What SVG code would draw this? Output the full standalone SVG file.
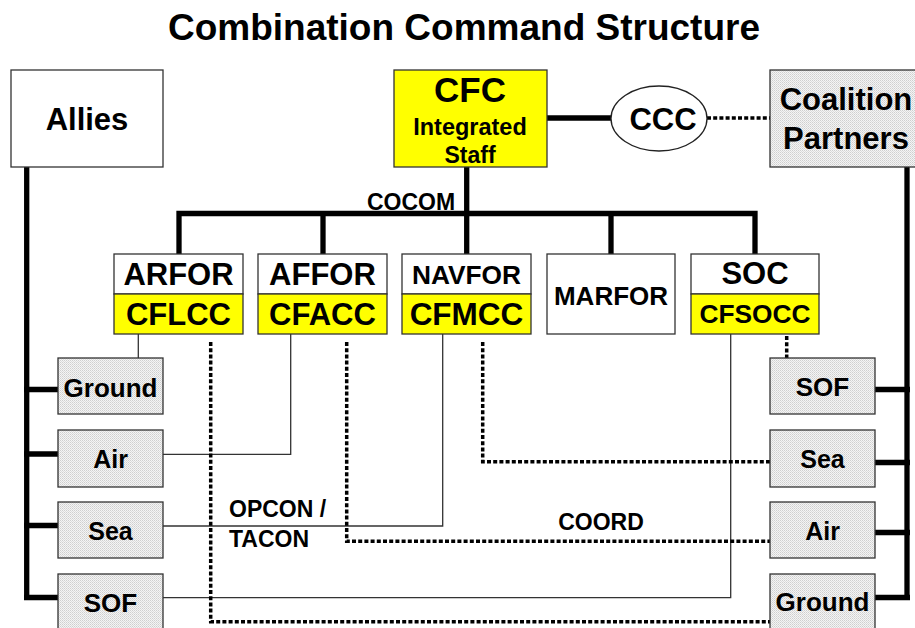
<svg xmlns="http://www.w3.org/2000/svg" width="915" height="628" viewBox="0 0 915 628">
<defs>
<pattern id="dots" width="2" height="2" patternUnits="userSpaceOnUse">
<rect width="2" height="2" fill="#f4f4f4"/>
<rect width="1" height="1" fill="#cfcfcf"/>
<rect x="1" y="1" width="1" height="1" fill="#dcdcdc"/>
</pattern>
<style>
text{font-family:"Liberation Sans",Arial,sans-serif;font-weight:bold;fill:#000;text-anchor:middle}
.box{stroke:#333;stroke-width:1.3}
.w{fill:#fff}
.y{fill:#ffff00}
.g{fill:url(#dots)}
.thick{fill:none;stroke:#000;stroke-width:5.3}
.thin{fill:none;stroke:#333;stroke-width:1.3}
.dot{fill:none;stroke:#000;stroke-width:3.5;stroke-dasharray:4 2.2}
</style>
</defs>
<rect width="915" height="628" fill="#fff"/>
<text x="464" y="40" font-size="37">Combination Command Structure</text>

<g id="connectors">
<!-- thick structure -->
<path class="thick" d="M547 118H611"/>
<path class="dot" d="M707 118H770"/>
<path class="thick" d="M466.7 167V254"/>
<path class="thick" d="M179 254V213.5H755V254"/>
<path class="thick" d="M323 213.5V254"/>
<path class="thick" d="M611 213.5V254"/>
<path class="thick" d="M26.7 167V598"/>
<path class="thick" d="M24 389.5H58M24 454H58M24 525.5H58M24 597.5H58"/>
<path class="thick" d="M907 167V599"/>
<path class="thick" d="M875 389.5H910M875 462.5H910M875 532.5H910M875 597.5H910"/>
<!-- thin OPCON/TACON -->
<path class="thin" d="M138.3 334V358"/>
<path class="thin" d="M290.7 334V454.3H163"/>
<path class="thin" d="M442.7 334V526H163"/>
<path class="thin" d="M730.7 334V597.7H163"/>
<!-- dotted COORD -->
<path class="dot" d="M210.7 342V621.7H770"/>
<path class="dot" d="M346.7 342V541.3H770"/>
<path class="dot" d="M482.7 342V461.7H770"/>
<path class="dot" d="M786.7 336V358"/>
</g>

<text x="367" y="210" font-size="23" text-anchor="start" style="text-anchor:start">COCOM</text>
<text x="229" y="517" font-size="23" style="text-anchor:start">OPCON /</text>
<text x="229" y="547" font-size="23" style="text-anchor:start">TACON</text>
<text x="601" y="530" font-size="23">COORD</text>

<g id="allies">
<rect class="box w" x="11" y="70" width="152" height="97"/>
<text x="87" y="130" font-size="31">Allies</text>
</g>
<g id="cfc">
<rect class="box y" x="394" y="70" width="153" height="97"/>
<text x="470" y="102" font-size="35">CFC</text>
<text x="470" y="135" font-size="23.5">Integrated</text>
<text x="470" y="163" font-size="23">Staff</text>
</g>
<g id="ccc">
<ellipse cx="659" cy="118.5" rx="48" ry="32.5" fill="#fff" stroke="#222" stroke-width="1.3"/>
<text x="663" y="130" font-size="31">CCC</text>
</g>
<g id="coalition">
<rect class="box g" x="770" y="70" width="152" height="97"/>
<text x="846" y="110" font-size="31">Coalition</text>
<text x="846" y="149" font-size="31">Partners</text>
</g>

<g id="arfor">
<rect class="box w" x="114" y="254" width="129" height="40"/>
<rect class="box y" x="114" y="294" width="129" height="40"/>
<text x="178.5" y="285" font-size="31">ARFOR</text>
<text x="178.5" y="325" font-size="31">CFLCC</text>
</g>
<g id="affor">
<rect class="box w" x="258" y="254" width="129" height="40"/>
<rect class="box y" x="258" y="294" width="129" height="40"/>
<text x="322.5" y="285" font-size="31">AFFOR</text>
<text x="322.5" y="325" font-size="31">CFACC</text>
</g>
<g id="navfor">
<rect class="box w" x="402" y="254" width="129" height="40"/>
<rect class="box y" x="402" y="294" width="129" height="40"/>
<text x="466.5" y="284" font-size="26.3">NAVFOR</text>
<text x="466.5" y="325" font-size="31.5">CFMCC</text>
</g>
<g id="marfor">
<rect class="box w" x="547" y="254" width="128" height="80"/>
<text x="611" y="305" font-size="26">MARFOR</text>
</g>
<g id="soc">
<rect class="box w" x="691" y="254" width="128" height="40"/>
<rect class="box y" x="691" y="294" width="128" height="40"/>
<text x="755" y="284" font-size="31">SOC</text>
<text x="755" y="323" font-size="26.3">CFSOCC</text>
</g>

<g id="ally-ground">
<rect class="box g" x="58" y="358" width="105" height="56"/>
<text x="110.5" y="397" font-size="26">Ground</text>
</g>
<g id="ally-air">
<rect class="box g" x="58" y="430" width="105" height="57"/>
<text x="110.5" y="468" font-size="25">Air</text>
</g>
<g id="ally-sea">
<rect class="box g" x="58" y="502" width="105" height="56"/>
<text x="110.5" y="540" font-size="25">Sea</text>
</g>
<g id="ally-sof">
<rect class="box g" x="58" y="574" width="105" height="58"/>
<text x="110.5" y="612" font-size="26">SOF</text>
</g>

<g id="coal-sof">
<rect class="box g" x="770" y="358" width="105" height="56"/>
<text x="822.5" y="396" font-size="26">SOF</text>
</g>
<g id="coal-sea">
<rect class="box g" x="770" y="430" width="105" height="57"/>
<text x="822.5" y="468" font-size="25">Sea</text>
</g>
<g id="coal-air">
<rect class="box g" x="770" y="502" width="105" height="56"/>
<text x="822.5" y="540" font-size="25">Air</text>
</g>
<g id="coal-ground">
<rect class="box g" x="770" y="574" width="105" height="58"/>
<text x="822.5" y="611" font-size="26">Ground</text>
</g>
</svg>
